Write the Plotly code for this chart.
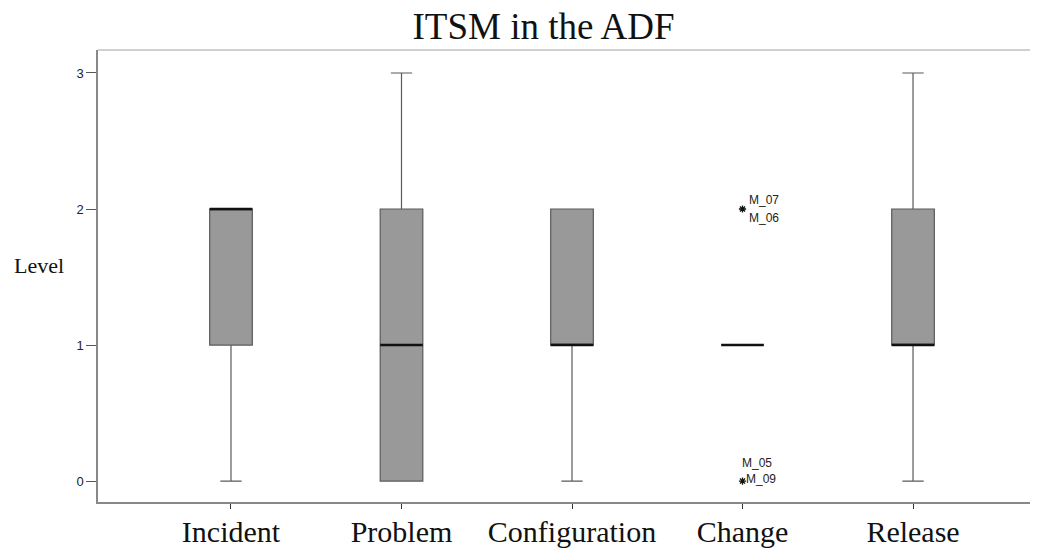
import plotly.graph_objects as go

categories = ["Incident", "Problem", "Configuration", "Change", "Release"]
q1 = [1, 0, 1, 1, 1]
median = [2, 1, 1, 1, 1]
q3 = [2, 2, 2, 1, 2]
lower = [0, 0, 0, 1, 0]
upper = [2, 3, 2, 1, 3]

outlier_cat = [3, 3]
outlier_val = [2, 0]
outlier_top_label = ["M_07", "M_05"]
outlier_bot_label = ["M_06", "M_09"]

y_ticks = [0, 1, 2, 3]

BOX_W = 0.25
fig = go.Figure()
xs = list(range(len(categories)))
for i, c in enumerate(categories):
    fig.add_trace(go.Box(
        x=[xs[i]], q1=[q1[i]], median=[median[i]], q3=[q3[i]],
        lowerfence=[lower[i]], upperfence=[upper[i]],
        width=BOX_W, whiskerwidth=0.5,
        fillcolor="#999999", line=dict(color="#5a5a5a", width=1.2),
        name=c, showlegend=False, hoverinfo="skip"))
    fig.add_trace(go.Scatter(
        x=[xs[i] - BOX_W / 2, xs[i] + BOX_W / 2], y=[median[i], median[i]],
        mode="lines", line=dict(color="#111111", width=2.5),
        showlegend=False, hoverinfo="skip"))

fig.add_trace(go.Scatter(
    x=outlier_cat, y=outlier_val, mode="markers",
    marker=dict(symbol="asterisk-open", size=6, color="#111111",
                line=dict(color="#111111", width=1.3)),
    showlegend=False, hoverinfo="skip"))

for cx, v, top, bot in zip(outlier_cat, outlier_val, outlier_top_label, outlier_bot_label):
    if v > 0:
        fig.add_annotation(x=cx, y=v, text=top, showarrow=False, xanchor="left",
                           xshift=4, yshift=9, font=dict(family="Arial", size=12, color="#222"))
        fig.add_annotation(x=cx, y=v, text=bot, showarrow=False, xanchor="left",
                           xshift=4, yshift=-9, font=dict(family="Arial", size=12, color="#222"))
    else:
        fig.add_annotation(x=cx, y=v, text=top, showarrow=False, xanchor="left",
                           xshift=-3, yshift=18, font=dict(family="Arial", size=12, color="#222"))
        fig.add_annotation(x=cx, y=v, text=bot, showarrow=False, xanchor="left",
                           xshift=1, yshift=2, font=dict(family="Arial", size=12, color="#222"))

fig.add_annotation(xref="paper", yref="paper", x=-0.0915, y=0.524, text="Level",
                   showarrow=False, xanchor="left",
                   font=dict(family="Liberation Serif", size=22, color="#111"))

fig.add_shape(type="line", xref="paper", yref="paper", x0=0, x1=1, y0=1, y1=1,
              line=dict(color="#d0d0d0", width=2))

fig.update_layout(
    width=1030, height=542,
    margin=dict(l=90, r=0, t=42, b=48, autoexpand=False),
    paper_bgcolor="white", plot_bgcolor="white",
    title=dict(text="ITSM in the ADF", x=0.52, xanchor="center", y=0.99, yanchor="top",
               font=dict(family="Liberation Serif", size=37, color="#111")),
    xaxis=dict(range=[-0.78, 4.733], tickvals=xs, ticktext=categories, automargin=False,
               showgrid=False, zeroline=False, showline=True, linecolor="#888", linewidth=1.5,
               ticks="outside", ticklen=5, tickcolor="#333", ticklabelstandoff=-3,
               tickfont=dict(family="Liberation Serif", size=30, color="#111")),
    yaxis=dict(range=[-0.154, 3.169], tickvals=y_ticks, automargin=False,
               showgrid=False, zeroline=False, showline=True, linecolor="#888", linewidth=1.5,
               ticks="outside", ticklen=10, tickcolor="#555",
               tickfont=dict(family="Arial", size=13, color="#222")),
)

fig.write_html("out.html")
